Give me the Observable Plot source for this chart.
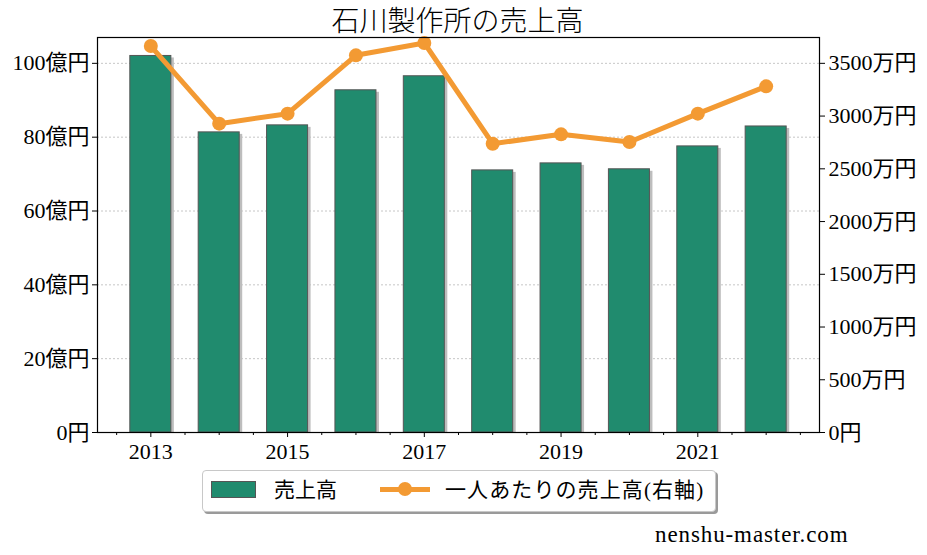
<!DOCTYPE html>
<html><head><meta charset="utf-8">
<script src="https://cdn.jsdelivr.net/npm/d3@7"></script>
<script src="https://cdn.jsdelivr.net/npm/@observablehq/plot@0.6"></script>
<style>
body{margin:0;background:#fff;}
#wrap{position:relative;width:927px;height:555px;font-family:"Liberation Serif","Noto Sans CJK JP",serif;color:#000;}
#title{position:absolute;left:96px;width:723px;top:1px;text-align:center;font-size:28px;line-height:36px;font-family:"Noto Sans CJK JP",sans-serif;font-weight:300;}
#legend{position:absolute;left:202px;top:470px;width:514px;height:42px;border:1px solid #c8c8c8;border-radius:4px;box-shadow:2px 2px 0 #9a9a9a;background:#fff;box-sizing:border-box;}
#legend .patch{position:absolute;left:8px;top:10px;width:45px;height:17px;background:#208b6e;border:1px solid #555;box-sizing:border-box;}
#legend .t{position:absolute;top:5px;font-size:21px;line-height:28px;white-space:nowrap;}
#legend .ln{position:absolute;left:177px;top:16px;width:50px;height:5px;background:#f39a33;}
#legend .dt{position:absolute;left:195px;top:11px;width:14px;height:14px;border-radius:50%;background:#f39a33;}
#footer{position:absolute;left:655px;top:521px;font-size:23px;line-height:28px;letter-spacing:0.9px;}
</style></head><body>
<div id="wrap">
<div id="title">石川製作所の売上高</div>
<div id="legend"><div class="patch"></div><div class="t" style="left:71px">売上高</div><div class="ln"></div><div class="dt"></div><div class="t" style="left:242px;letter-spacing:1.1px">一人あたりの売上高(右軸)</div></div>
<div id="footer">nenshu-master.com</div>
</div>
<script>
const years = [2013, 2014, 2015, 2016, 2017, 2018, 2019, 2020, 2021, 2022];
const sales = [102.0, 81.3, 83.2, 92.7, 96.5, 71.0, 72.9, 71.3, 77.5, 82.9]; // 億円
const perPerson = [3664, 2928, 3023, 3576, 3693, 2738, 2827, 2754, 3023, 3282]; // 万円
const leftTicks = [0, 20, 40, 60, 80, 100];
const rightTicks = [0, 500, 1000, 1500, 2000, 2500, 3000, 3500];
const xTicks = [2013, 2015, 2017, 2019, 2021];

const K = 100 / 3500;
const data = years.map((y, i) => ({year: y, sales: sales[i], pp: perPerson[i]}));
const minor = d3.range(2012.5, 2023, 0.5).filter(d => !xTicks.includes(d));

const chart = Plot.plot({
  width: 927, height: 555,
  marginTop: 37, marginBottom: 123, marginLeft: 97, marginRight: 108,
  x: {domain: [2012.22, 2022.78]},
  y: {domain: [0, 107]},
  style: {fontFamily: '"Liberation Serif","Noto Sans CJK JP",serif', fontSize: "22px", color: "#000", background: "transparent", overflow: "visible"},
  marks: [
    Plot.gridY(leftTicks.filter(d => d > 0), {stroke: "#b8b8b8", strokeOpacity: 1, strokeWidth: 0.8, strokeDasharray: "2,2"}),
    Plot.rectY(data, {x1: d => d.year - 0.3, x2: d => d.year + 0.3, y: "sales", fill: "#bdbdbd", dx: 3, dy: 2, clip: "frame"}),
    Plot.rectY(data, {x1: d => d.year - 0.3, x2: d => d.year + 0.3, y: "sales", fill: "#208b6e", stroke: "#555", strokeWidth: 1}),
    Plot.line(data, {x: "year", y: d => d.pp * K, stroke: "#f39a33", strokeWidth: 5}),
    Plot.dot(data, {x: "year", y: d => d.pp * K, r: 7, fill: "#f39a33"}),
    Plot.axisY(leftTicks, {anchor: "left", label: null, tickSize: 5, tickPadding: 3, tickFormat: d => d === 0 ? "0円" : d + "億円"}),
    Plot.axisY(rightTicks.map(d => d * K), {anchor: "right", label: null, tickSize: 5, tickPadding: 4, tickFormat: d => { const v = Math.round(d / K); return v === 0 ? "0円" : v + "万円"; }}),
    Plot.axisX(xTicks, {anchor: "bottom", label: null, tickSize: 5, tickPadding: 6, tickFormat: d => String(d)}),
    Plot.axisX(minor, {anchor: "bottom", label: null, tickSize: 3, tickFormat: () => ""}),
    Plot.frame({stroke: "#000", strokeWidth: 1.2})
  ]
});
chart.style.position = "absolute";
chart.style.left = "0px";
chart.style.top = "0px";
document.getElementById("wrap").prepend(chart);
</script>
</body></html>
